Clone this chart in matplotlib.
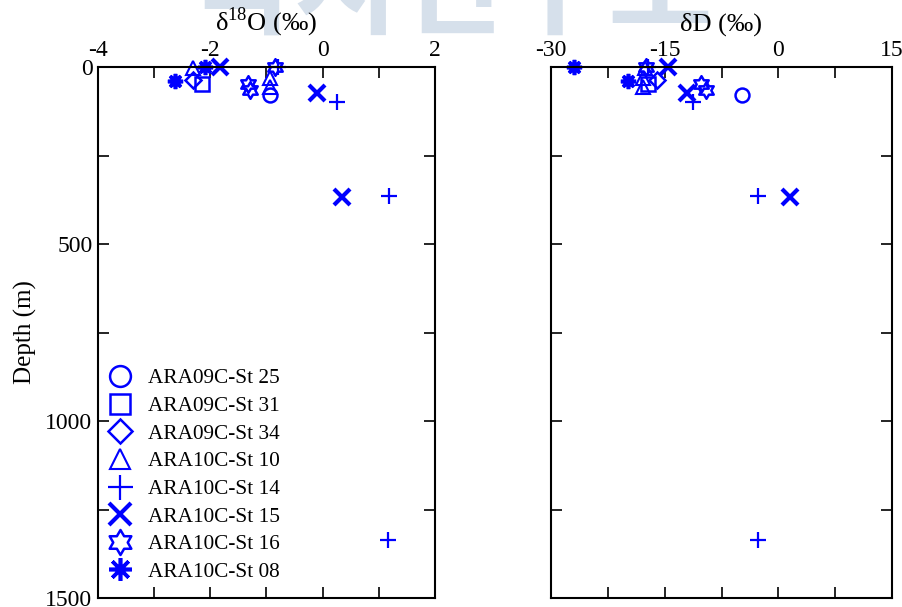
import matplotlib
matplotlib.use("Agg")
import matplotlib.pyplot as plt
from matplotlib.path import Path
from matplotlib.ticker import MultipleLocator
import numpy as np

plt.rcParams['font.family'] = ['Liberation Serif', 'DejaVu Serif']
plt.rcParams['mathtext.fontset'] = 'custom'
plt.rcParams['mathtext.rm'] = 'Liberation Serif'
plt.rcParams['axes.unicode_minus'] = False

# station sample depths (m) with d18O and dD (permil)
st25_depth = [79]
st25_d18o = [-0.94]
st25_dd = [-4.8]

st31_depth = [47]
st31_d18o = [-2.15]
st31_dd = [-17.2]

st34_depth = [37]
st34_d18o = [-2.31]
st34_dd = [-16.0]

st10_depth = [3, 31, 56]
st10_d18o = [-2.30, -0.94, -0.94]
st10_dd = [-17.6, -17.9, -17.9]

st14_depth = [0, 98, 365, 1336]
st14_d18o = [-0.80, 0.25, 1.18, 1.16]
st14_dd = [-17.2, -11.3, -2.7, -2.7]

st15_depth = [0, 74, 367]
st15_d18o = [-1.83, -0.10, 0.34]
st15_dd = [-14.5, -12.1, 1.5]

st16_depth = [0, 48, 65]
st16_d18o = [-0.85, -1.33, -1.30]
st16_dd = [-17.5, -10.2, -9.6]

st08_depth = [0, 40]
st08_d18o = [-2.10, -2.63]
st08_dd = [-27.0, -19.9]

labels = ['ARA09C-St 25', 'ARA09C-St 31', 'ARA09C-St 34', 'ARA10C-St 10',
          'ARA10C-St 14', 'ARA10C-St 15', 'ARA10C-St 16', 'ARA10C-St 08']

# six-pointed star (two overlapping triangles)
ang = np.deg2rad(np.arange(12) * 30 + 90)
rad = np.where(np.arange(12) % 2 == 0, 1.0, 0.58)
hexagram = Path(np.column_stack([rad * np.cos(ang), rad * np.sin(ang)]).tolist() + [[0, 1]], closed=True)

styles = [
    dict(marker='o', ms=10, mew=1.8),
    dict(marker='s', ms=10, mew=1.8),
    dict(marker='D', ms=8, mew=1.8),
    dict(marker='^', ms=10, mew=1.5),
    dict(marker='+', ms=12, mew=1.6),
    dict(marker='x', ms=11, mew=3.0),
    dict(marker=hexagram, ms=12, mew=1.8),
    dict(marker=(8, 2, 0), ms=11, mew=2.6),
]

depths = [st25_depth, st31_depth, st34_depth, st10_depth,
          st14_depth, st15_depth, st16_depth, st08_depth]
o18 = [st25_d18o, st31_d18o, st34_d18o, st10_d18o,
       st14_d18o, st15_d18o, st16_d18o, st08_d18o]
dd = [st25_dd, st31_dd, st34_dd, st10_dd,
      st14_dd, st15_dd, st16_dd, st08_dd]

blue = '#0000ff'

fig = plt.figure(figsize=(9.03, 6.07), dpi=100)
fig.text(0.50, 1 - 50 / 607, '극지연구소', family=['Noto Sans CJK KR'], weight='bold',
         fontsize=82, color='#d6e0eb', ha='center', va='bottom', zorder=-1)

ax1 = fig.add_axes([98 / 903, 9 / 607, 337 / 903, 531 / 607])
ax2 = fig.add_axes([551 / 903, 9 / 607, 341 / 903, 531 / 607])

for ax, vals in ((ax1, o18), (ax2, dd)):
    ax.patch.set_alpha(0)
    for d, v, st, lab in zip(depths, vals, styles, labels):
        ax.plot(v, d, ls='none', color=blue, mfc='none', mec=blue, label=lab,
                clip_on=False, **st)
    ax.set_ylim(1500, 0)
    ax.yaxis.set_major_locator(MultipleLocator(500))
    ax.yaxis.set_minor_locator(MultipleLocator(250))
    ax.xaxis.tick_top()
    ax.xaxis.set_label_position('top')
    ax.tick_params(which='both', direction='in', top=True, bottom=True,
                   left=True, right=True, labelsize=17, pad=4)
    ax.tick_params(which='major', length=8, width=1.2)
    ax.tick_params(which='minor', length=8, width=1.2)
    for sp in ax.spines.values():
        sp.set_linewidth(1.5)

ax1.set_xlim(-4, 2)
ax1.xaxis.set_major_locator(MultipleLocator(2))
ax1.xaxis.set_minor_locator(MultipleLocator(1))
ax1.set_xlabel('δ$^{18}$O (‰)', fontsize=19, labelpad=7)
ax1.set_ylabel('Depth (m)', fontsize=18, labelpad=6)

ax2.set_xlim(-30, 15)
ax2.xaxis.set_major_locator(MultipleLocator(15))
ax2.xaxis.set_minor_locator(MultipleLocator(7.5))
ax2.set_xlabel('δD (‰)', fontsize=19, labelpad=7)
ax2.tick_params(labelleft=False)

ax1.legend(loc='upper left', bbox_to_anchor=(-0.016, 0.46), frameon=False,
           fontsize=15.3, markerscale=1.5, handlelength=1.2, handletextpad=0.7,
           labelspacing=0.365, borderpad=0.2)

fig.savefig('out.png', dpi=100)
